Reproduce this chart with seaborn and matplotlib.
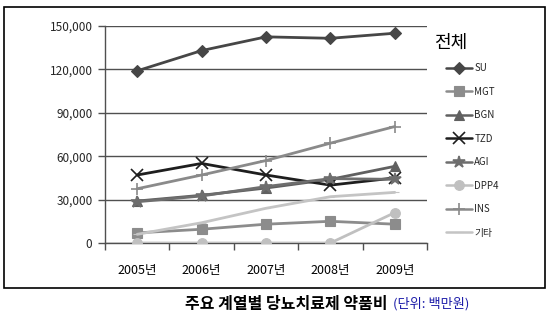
import matplotlib
matplotlib.use("Agg")
import matplotlib.pyplot as plt
import seaborn as sns
import pandas as pd
from matplotlib.patches import Rectangle
from matplotlib.ticker import FuncFormatter

sns.set_theme(style="white")
plt.rcParams['font.family'] = ['Noto Sans CJK KR', 'DejaVu Sans']

years = ["2005년", "2006년", "2007년", "2008년", "2009년"]
series_names = ["SU", "MGT", "BGN", "TZD", "AGI", "DPP4", "INS", "기타"]
su = [119000, 133000, 142500, 141500, 145000]
mgt = [7000, 9500, 13000, 15000, 13000]
bgn = [29000, 33000, 38000, 44000, 53000]
tzd = [47000, 55000, 47000, 40000, 45000]
agi = [28500, 32500, 39000, 44500, 44000]
dpp4 = [0, 0, 0, 0, 21000]
ins = [37500, 47000, 57000, 69000, 80500]
etc = [6000, 14000, 24000, 32000, 35000]
values = [su, mgt, bgn, tzd, agi, dpp4, ins, etc]

colors = ["#464646", "#8c8c8c", "#606060", "#1e1e1e", "#6e6e6e", "#c0c0c0", "#8a8a8a", "#c4c4c4"]
markers = ["D", "s", "^", "x", "*", "o", "+", "_"]
msizes = [6, 7, 7, 9, 9, 7, 9, 6]

fig = plt.figure(figsize=(5.52, 3.23), dpi=100)
W, H = 552, 323
ax = fig.add_axes([105 / W, 1 - 243 / H, (427 - 105) / W, (243 - 26) / H])

rows = []
for name, vals in zip(series_names, values):
    for i, (y, v) in enumerate(zip(years, vals)):
        rows.append({"series": name, "x": i, "year": y, "value": v})
df = pd.DataFrame(rows)

for name, c, m, ms in zip(series_names, colors, markers, msizes):
    sub = df[df["series"] == name]
    sns.lineplot(data=sub, x="x", y="value", ax=ax, color=c, linewidth=2.0,
                 marker=m, markersize=ms, markeredgecolor=c, markerfacecolor=c,
                 markeredgewidth=1.2 if m in ("x", "+", "*") else 0.8,
                 label=name, zorder=3)

ax.set_xlim(-0.5, 4.5)
ax.set_ylim(0, 150000)
ax.set_yticks([0, 30000, 60000, 90000, 120000, 150000])
ax.yaxis.set_major_formatter(FuncFormatter(lambda v, p: f"{int(v):,}"))
ax.set_xticks(range(5))
ax.set_xticklabels(years)
ax.set_xticks([-0.5, 0.5, 1.5, 2.5, 3.5, 4.5], minor=True)
ax.tick_params(axis="x", which="major", length=0, pad=15, labelsize=9, colors="#000000")
ax.tick_params(axis="x", which="minor", length=5, width=1, color="#505050", direction="out", bottom=True)
ax.tick_params(axis="y", length=5, width=1, color="#505050", direction="out", left=True, labelsize=8.5, pad=4)
ax.set_xlabel("")
ax.set_ylabel("")
ax.grid(axis="y", color="#505050", linewidth=1)
ax.set_axisbelow(True)
for s in ["top", "right"]:
    ax.spines[s].set_visible(False)
for s in ["left", "bottom"]:
    ax.spines[s].set_color("#505050")
    ax.spines[s].set_linewidth(1)

leg = ax.legend(loc="upper left", bbox_to_anchor=(446 / W, 1 - 63 / H), bbox_transform=fig.transFigure,
                frameon=False, fontsize=7, borderpad=0,
                handlelength=2.7, handletextpad=0.2, labelspacing=1.39, borderaxespad=0)
for h in leg.legend_handles:
    h.set_linewidth(1.8)

fig.text(434 / W, 1 - 43 / H, "전체", ha="left", va="center", fontsize=13, color="black")

fig.patches.append(Rectangle((4 / W, 1 - 288 / H), 541 / W, 281 / H, transform=fig.transFigure,
                             fill=False, edgecolor="black", linewidth=1.2))

fig.text(388 / W, 1 - 304 / H, "주요 계열별 당뇨치료제 약품비", ha="right", va="center",
         fontsize=11.5, fontweight="bold", color="black")
fig.text(393 / W, 1 - 304 / H, "(단위: 백만원)", ha="left", va="center",
         fontsize=9.5, color="#1a1aa8")

fig.savefig("out.png", dpi=100)
